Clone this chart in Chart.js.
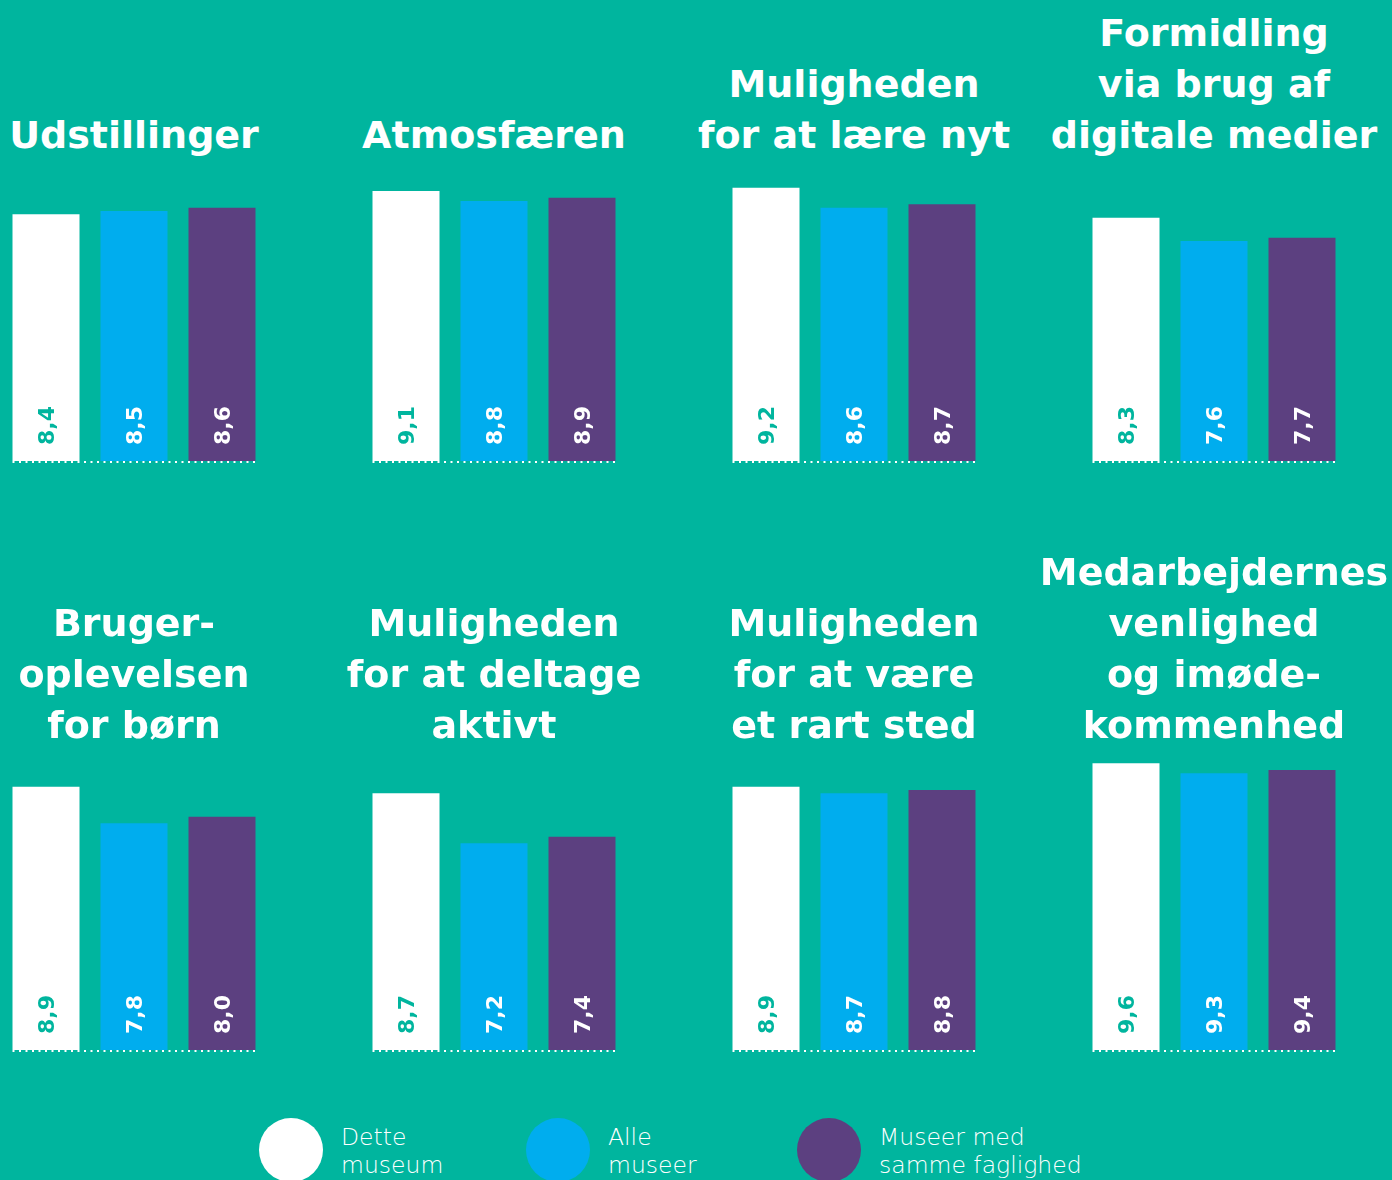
<!DOCTYPE html>
<html>
<head>
<meta charset="utf-8">
<script src="https://cdn.jsdelivr.net/npm/chart.js@4.4.0/dist/chart.umd.min.js"></script>
<style>
  body { margin: 0; background: #00B59E; width: 1392px; height: 1180px; overflow: hidden; position: relative; font-family: "DejaVu Sans", sans-serif; }
  .panel { position: absolute; width: 264px; height: 304px; }
  .title { position: absolute; width: 400px; text-align: center; color: #fff; font-weight: bold; font-size: 38px; line-height: 51px; white-space: pre; }
  .legend-item { position: absolute; top: 1118px; }
  .dot { position: absolute; left: 0; top: 0; width: 64px; height: 64px; border-radius: 50%; }
  .legend-text { position: absolute; left: 82px; top: 5px; color: #fff; font-family: "DejaVu Sans", sans-serif; font-weight: 200; font-size: 23.5px; line-height: 28px; white-space: pre; }
</style>
</head>
<body>

<script>
var titles = [
    'Udstillinger',
    'Atmosfæren',
    'Muligheden\nfor at lære nyt',
    'Formidling\nvia brug af\ndigitale medier',
    'Bruger-\noplevelsen\nfor børn',
    'Muligheden\nfor at deltage\naktivt',
    'Muligheden\nfor at være\net rart sted',
    'Medarbejdernes\nvenlighed\nog imøde-\nkommenhed'
];
var seriesNames = ['Dette\nmuseum', 'Alle\nmuseer', 'Museer med\nsamme faglighed'];
var detteMuseum = [8.4, 9.1, 9.2, 8.3, 8.9, 8.7, 8.9, 9.6];
var alleMuseer = [8.5, 8.8, 8.6, 7.6, 7.8, 7.2, 8.7, 9.3];
var sammeFaglighed = [8.6, 8.9, 8.7, 7.7, 8.0, 7.4, 8.8, 9.4];

var teal = '#00B59E';
var colors = ['#ffffff', '#00ADEE', '#5C4080'];
var labelColors = [teal, '#ffffff', '#ffffff'];

// dotted baseline + rotated value labels
var barDeco = {
    id: 'barDeco',
    afterDraw: function(chart) {
        var ctx = chart.ctx;
        var bars = chart.getDatasetMeta(0).data;
        var first = bars[0], last = bars[bars.length - 1];
        var y = chart.scales.y.getPixelForValue(chart.scales.y.min);
        ctx.save();
        ctx.strokeStyle = '#ffffff';
        ctx.lineWidth = 2;
        ctx.setLineDash([2, 4.5]);
        ctx.beginPath();
        ctx.moveTo(first.x - first.width / 2, y + 1);
        ctx.lineTo(last.x + last.width / 2, y + 1);
        ctx.stroke();
        ctx.setLineDash([]);

        var vals = chart.data.datasets[0].data;
        ctx.font = 'bold 22px "DejaVu Sans"';
        ctx.textAlign = 'left';
        ctx.textBaseline = 'middle';
        for (let i = 0; i < bars.length; i++) {
            ctx.save();
            ctx.translate(bars[i].x + 2, y - 16);
            ctx.rotate(-Math.PI / 2);
            ctx.fillStyle = labelColors[i];
            ctx.fillText(vals[i].toFixed(1).replace('.', ','), 0, 0);
            ctx.restore();
        }
        ctx.restore();
    }
};

function makePanel(i) {
    var col = i % 4;
    var row = Math.floor(i / 4);
    var left = 2 + col * 360;
    var top = row == 0 ? 161 : 750;

    var div = document.createElement('div');
    div.className = 'panel';
    div.style.left = left + 'px';
    div.style.top = top + 'px';
    var canvas = document.createElement('canvas');
    div.appendChild(canvas);
    document.body.appendChild(div);

    var t = document.createElement('div');
    t.className = 'title';
    t.textContent = titles[i];
    t.style.left = (left + 132 - 200) + 'px';
    t.style.bottom = (1180 - (row == 0 ? 161 : 751)) + 'px';
    document.body.appendChild(t);

    new Chart(canvas, {
        type: 'bar',
        data: {
            labels: seriesNames,
            datasets: [{
                data: [detteMuseum[i], alleMuseer[i], sammeFaglighed[i]],
                backgroundColor: colors,
                barPercentage: 67 / 88,
                categoryPercentage: 1
            }]
        },
        options: {
            responsive: true,
            maintainAspectRatio: false,
            animation: false,
            layout: { padding: { left: 0, right: 0, top: 0, bottom: 4 } },
            plugins: { legend: { display: false }, tooltip: { enabled: false } },
            scales: {
                x: { display: false },
                y: { display: false, min: 1, max: 10 }
            }
        },
        plugins: [barDeco]
    });
}

for (let i = 0; i < titles.length; i++) {
    makePanel(i);
}

var legendX = [259, 526, 797];
for (let i = 0; i < seriesNames.length; i++) {
    var item = document.createElement('div');
    item.className = 'legend-item';
    item.style.left = legendX[i] + 'px';
    var dot = document.createElement('div');
    dot.className = 'dot';
    dot.style.background = colors[i];
    var txt = document.createElement('div');
    txt.className = 'legend-text';
    txt.textContent = seriesNames[i];
    item.appendChild(dot);
    item.appendChild(txt);
    document.body.appendChild(item);
}
</script>
</body>
</html>
